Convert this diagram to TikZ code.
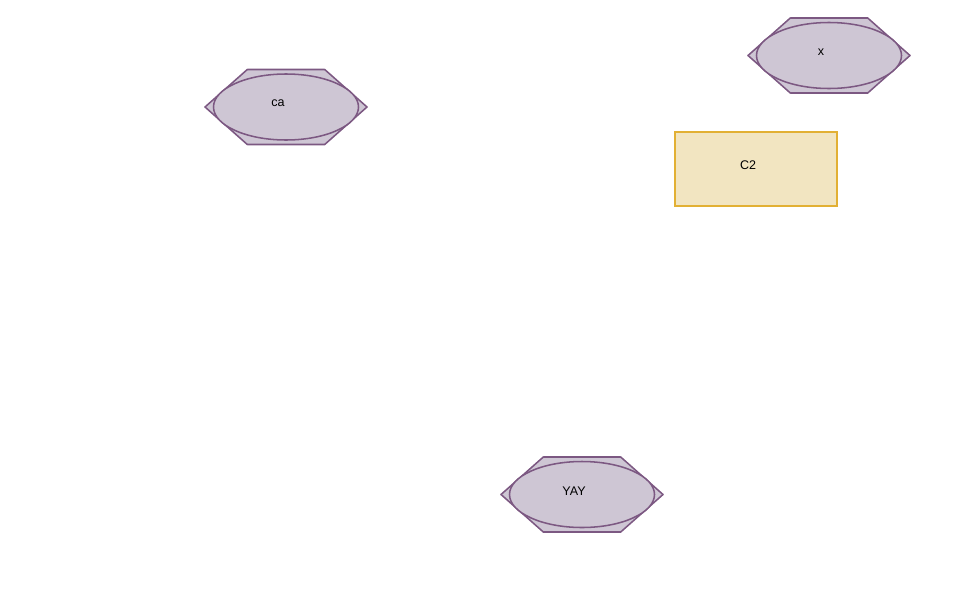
\documentclass[tikz,border=0pt]{standalone}
\usepackage{fontspec}
\setmainfont{Liberation Sans}
\usepackage{xcolor}
\usepackage{tikz}
\usetikzlibrary{shapes.geometric, positioning}

\definecolor{hexfill}{RGB}{206,198,212}
\definecolor{hexline}{RGB}{124,88,130}
\definecolor{boxfill}{RGB}{242,229,193}
\definecolor{boxline}{RGB}{226,176,52}

% hexagon behind an ellipse, around a named coordinate
\newcommand{\hexaround}[1]{%
  \draw[hexshape] ([shift={(-81,0)}]#1) -- ([shift={(-38.7,-37.5)}]#1)
    -- ([shift={(38.7,-37.5)}]#1) -- ([shift={(81,0)}]#1)
    -- ([shift={(38.7,37.5)}]#1) -- ([shift={(-38.7,37.5)}]#1) -- cycle;}

\begin{document}
\begin{tikzpicture}[
    x=0.75pt, y=-0.75pt,
    hexshape/.style={draw=hexline, fill=hexfill, line width=1.15pt, line join=round},
    blob/.style={ellipse, draw=hexline, fill=hexfill, line width=1.15pt,
                 minimum width=108.75pt, minimum height=49.5pt, inner sep=0pt},
    card/.style={draw=boxline, fill=boxfill, line width=1.15pt,
                 minimum width=121.5pt, minimum height=55.5pt, inner sep=0pt},
    lbl/.style={font=\fontsize{9.4pt}{11pt}\selectfont, inner sep=0pt}
  ]
  \useasboundingbox (0,0) rectangle (973,596);
  \coordinate (ca)  at (286,107);
  \coordinate (x)   at (829,55.5);
  \coordinate (yay) at (582,494.5);
  \hexaround{ca}
  \hexaround{x}
  \hexaround{yay}
  \node[blob] (caE)  at (ca)  {};
  \node[blob] (xE)   at (x)   {};
  \node[blob] (yayE) at (yay) {};
  \node[card] (c2) at (756,169) {};
  \node[lbl] (caT)  at ([shift={(-8,-3.5)}]caE.center)  {ca};
  \node[lbl] (xT)   at ([shift={(-8,-3.5)}]xE.center)   {x};
  \node[lbl] (yayT) at ([shift={(-8,-3.5)}]yayE.center) {YAY};
  \node[lbl] (c2T)  at ([shift={(-8,-3.5)}]c2.center)   {C2};
\end{tikzpicture}
\end{document}
